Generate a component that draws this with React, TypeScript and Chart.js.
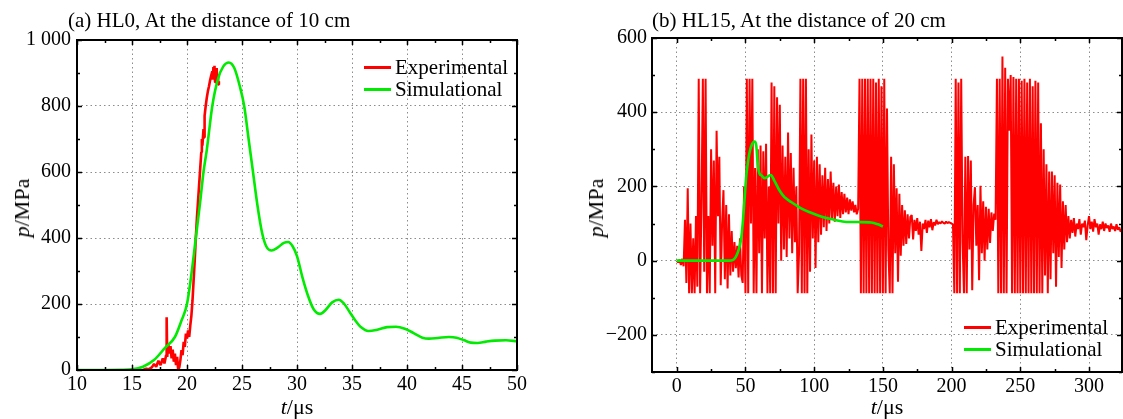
import React, { useEffect, useRef } from 'react';
import { Chart, registerables } from 'chart.js';

Chart.register(...registerables);

const FONT = '"Liberation Serif", "Times New Roman", Times, serif';
const RED = 'rgb(255,0,0)';
const GREEN = 'rgb(0,235,0)';

// ---------- Panel (a): HL0, 10 cm ----------
const aTitle = '(a) HL0, At the distance of 10 cm';
const aSimTime = [10, 12, 14, 15, 16, 17, 18, 18.9, 19.5, 20, 20.4, 20.8, 21.2, 21.5, 21.8, 22.3, 22.8, 23.3, 23.8, 24.3, 24.8, 25.2, 25.6, 26.0, 26.4, 26.8, 27.2, 27.7, 28.2, 28.8, 29.2, 29.6, 30.0, 30.5, 31.0, 31.5, 32.1, 32.6, 33.2, 33.8, 34.3, 34.8, 35.3, 35.8, 36.5, 37.3, 38.2, 39.0, 39.8, 40.6, 41.4, 42.0, 42.8, 43.8, 44.5, 45.2, 45.8, 46.4, 47.2, 48.0, 49.0, 50.0];
const aSimPressure = [0, 0, 0.5, 2, 10, 30, 67, 100, 150, 200, 290, 400, 510, 600, 667, 800, 880, 920, 932, 915, 860, 800, 700, 600, 500, 420, 375, 362, 370, 385, 388, 375, 345, 280, 225, 185, 170, 182, 205, 213, 200, 175, 150, 130, 118, 122, 130, 131, 125, 112, 98, 95, 97, 100, 98, 90, 83, 82, 86, 89, 90, 87];
const aExpTime = [16.0, 16.3, 16.5, 16.8, 17.0, 17.2, 17.4, 17.6, 17.8, 17.95, 18.1, 18.15, 18.2, 18.3, 18.4, 18.5, 18.6, 18.7, 18.8, 18.9, 19.0, 19.1, 19.2, 19.3, 19.4, 19.5, 19.6, 19.7, 19.8, 19.9, 20.0, 20.1, 20.2, 20.3, 20.4, 20.5, 20.6, 20.7, 20.8, 20.9, 21.0, 21.1, 21.2, 21.3, 21.35, 21.4, 21.5, 21.55, 21.6, 21.7, 21.8, 21.9, 22.0, 22.1, 22.2, 22.3, 22.35, 22.4, 22.45, 22.5, 22.55, 22.6, 22.65, 22.7, 22.75, 22.8, 22.85, 22.9];
const aExpPressure = [0, 4, 2, 8, 18, 10, 28, 15, 35, 20, 45, 160, 40, 80, 50, 72, 35, 62, 25, 50, 15, 40, 0, 8, 30, 60, 45, 85, 70, 110, 95, 120, 100, 135, 165, 210, 270, 330, 400, 460, 510, 560, 610, 660, 700, 680, 730, 705, 770, 800, 825, 845, 860, 878, 892, 905, 880, 918, 895, 922, 872, 912, 878, 915, 868, 895, 865, 875];
const aXTicks = [10, 15, 20, 25, 30, 35, 40, 45, 50];
const aYTicks = [0, 200, 400, 600, 800, 1000];
const aYTickLabels = ['0', '200', '400', '600', '800', '1 000'];

// ---------- Panel (b): HL15, 20 cm ----------
const bTitle = '(b) HL15, At the distance of 20 cm';
const bExpStep = 1; // µs between samples, starting at t = 0
const bExpPressure = [
  0, -5, 3, -12, 5, -15, 110, -60, 195, -88,
  100, -88, 60, -88, 120, -70, 490, -88, 150, 490,
  -30, 490, -88, 120, -88, 300, 40, 270, -88, 350,
  120, 280, -66, 100, 190, -50, 150, -75, 125, -40,
  80, -30, 50, -20, 40, -45, 60, -40, -60, 200,
  -88, 490, -88, 490, 100, 490, -88, 250, -88, 300,
  20, 310, -88, 295, 60, 315, -88, 200, -88, 480,
  -88, 470, -88, 440, 100, 420, 0, 310, 30, 280,
  10, 345, 60, 290, 20, 250, 50, 200, -88, 20,
  490, -88, 490, -88, 490, -88, 300, -30, 340, 60,
  270, -20, 280, 50, 260, 70, 230, 90, 250, 80,
  220, 100, 240, 110, 210, 105, 200, 120, 205, 115,
  185, 125, 180, 130, 170, 125, 165, 135, 160, 130,
  150, 125, 140, 490, -88, 490, -88, 490, -88, 490,
  -88, 490, -88, 490, -88, 480, -88, 490, -88, 470,
  -88, 490, -88, 410, 30, -88, 280, -88, 260, 20,
  195, -57, 180, 13, 150, 40, 136, 45, 125, 60,
  118, 123, 57, 110, 80, 115, 70, 105, 26, 100,
  85, 110, 75, 108, 90, 112, 82, 104, 95, 110,
  98, 104, 100, 106, 102, 100, 105, 101, 104, 102,
  100, 98, -88, 490, -88, 480, -88, 490, 50, -88,
  280, -88, 282, 30, 270, -80, 150, 198, 40, 150,
  -53, 202, 20, 160, 0, 145, 30, 140, 48, 130,
  80, 127, 110, 490, -88, 490, -88, 550, -88, 520,
  -88, 490, 350, 500, -88, 495, -88, 490, -88, 490,
  -88, 485, -88, 490, -88, 480, -88, 490, -88, 470,
  -88, 485, -88, 480, -88, 370, -88, 300, -40, 260,
  -88, 240, -50, 240, 20, 230, -70, 210, 10, 205,
  -20, 160, 30, 150, 50, 120, 60, 110, 75, 115,
  65, 100, 85, 112, 70, 100, 90, 108, 55, 95,
  120, 85, 105, 78, 112, 90, 100, 70, 98, 85,
  105, 80, 100, 88, 95, 78, 100, 85, 92, 80,
  98, 83, 90, 78, 85,
];
const bSimTime = [0, 10, 20, 30, 38, 41, 44.4, 46.8, 48, 49.3, 50.5, 51.7, 52.9, 54.6, 56.6, 57.8, 59, 60.2, 61.9, 64, 66.7, 68.5, 71.1, 74.8, 78.4, 83.3, 90.5, 97.8, 105, 112.4, 122, 131.8, 141.5, 146.4, 150];
const bSimPressure = [0, 0, 0, 0, 0, 2, 22, 57, 100, 163, 224, 262, 290, 312, 321, 312, 259, 235, 229, 222, 228, 231, 215, 189, 171, 158, 141, 129, 119, 112, 105, 104, 103, 98, 92];
const bXTicks = [0, 50, 100, 150, 200, 250, 300];
const bYTicks = [-200, 0, 200, 400, 600];
const bYTickLabels = ['\u2212200', '0', '200', '400', '600'];

const legendNames = ['Experimental', 'Simulational'];

const pts = (xs: number[], ys: number[]) => xs.map((x, i) => ({ x, y: ys[i] }));

const frameTicks = {
  id: 'frameTicks',
  afterDraw(chart: any, _args: any, opts: any) {
    const { ctx, chartArea: a } = chart;
    const xs = chart.scales.x;
    const ys = chart.scales.y;
    ctx.save();
    ctx.strokeStyle = '#000';
    ctx.lineWidth = 1.5;
    ctx.beginPath();
    const isMajor = (v: number, m: number) => Math.abs(v / m - Math.round(v / m)) < 1e-6;
    for (let v = Math.ceil(xs.min / opts.xMinor) * opts.xMinor; v <= xs.max + 1e-9; v += opts.xMinor) {
      const px = Math.round(xs.getPixelForValue(v)) + 0.5;
      const len = isMajor(v, opts.xMajor) ? 5 : 3;
      ctx.moveTo(px, a.bottom); ctx.lineTo(px, a.bottom - len);
      ctx.moveTo(px, a.top); ctx.lineTo(px, a.top + len);
    }
    for (let v = Math.ceil(ys.min / opts.yMinor) * opts.yMinor; v <= ys.max + 1e-9; v += opts.yMinor) {
      const py = Math.round(ys.getPixelForValue(v)) + 0.5;
      const len = isMajor(v, opts.yMajor) ? 5 : 3;
      ctx.moveTo(a.left, py); ctx.lineTo(a.left + len, py);
      ctx.moveTo(a.right, py); ctx.lineTo(a.right - len, py);
    }
    ctx.stroke();
    ctx.lineWidth = 2;
    ctx.strokeRect(a.left, a.top, a.right - a.left, a.bottom - a.top);
    ctx.restore();
  },
};

type PanelCfg = {
  width: number;
  pad: { top: number; right: number };
  yWidth: number;
  xHeight: number;
  xMin: number; xMax: number; xStep: number; xMinor: number;
  yMin: number; yMax: number; yStep: number; yMinor: number;
  xTicks: number[]; yTicks: number[]; yLabels: string[];
  exp: { x: number; y: number }[]; sim: { x: number; y: number }[];
  expWidth: number;
  yPad: number;
};

function makeChart(canvas: HTMLCanvasElement, c: PanelCfg) {
  const tickFont = { family: FONT, size: 20 };
  return new Chart(canvas, {
    type: 'line',
    data: {
      datasets: [
        { label: legendNames[1], data: c.sim, borderColor: GREEN, borderWidth: 2.6, pointRadius: 0, cubicInterpolationMode: 'monotone', order: 0, borderJoinStyle: 'round' },
        { label: legendNames[0], data: c.exp, borderColor: RED, borderWidth: c.expWidth, pointRadius: 0, tension: 0, order: 1, borderJoinStyle: 'bevel' },
      ],
    },
    options: {
      responsive: false,
      animation: false,
      events: [],
      layout: { padding: { top: c.pad.top, right: c.pad.right, left: 0, bottom: 0 } },
      plugins: {
        legend: { display: false },
        tooltip: { enabled: false },
        frameTicks: { xMajor: c.xStep, xMinor: c.xMinor, yMajor: c.yStep, yMinor: c.yMinor },
      } as any,
      scales: {
        x: {
          type: 'linear', min: c.xMin, max: c.xMax,
          afterFit: (s: any) => { s.height = c.xHeight; },
          ticks: {
            stepSize: c.xStep, includeBounds: false, autoSkip: false, maxRotation: 0, padding: 3, color: '#000', font: tickFont,
            callback: (v: any) => (c.xTicks.includes(Number(v)) ? String(v) : ''),
          },
          grid: { color: '#8c8c8c', lineWidth: 1, drawTicks: false },
          border: { display: false, dash: [1.5, 3] },
        },
        y: {
          type: 'linear', min: c.yMin, max: c.yMax,
          afterFit: (s: any) => { s.width = c.yWidth; },
          ticks: {
            stepSize: c.yStep, includeBounds: false, autoSkip: false, padding: c.yPad, color: '#000', font: tickFont,
            callback: (v: any) => { const i = c.yTicks.indexOf(Number(v)); return i >= 0 ? c.yLabels[i] : ''; },
          },
          grid: { color: '#8c8c8c', lineWidth: 1, drawTicks: false },
          border: { display: false, dash: [1.5, 3] },
        },
      },
    } as any,
    plugins: [frameTicks],
  });
}

const Legend = ({ left, top }: { left: number; top: number }) => (
  <div style={{ position: 'absolute', left, top, fontSize: 21, lineHeight: '22px', whiteSpace: 'nowrap' }}>
    {legendNames.map((n, i) => (
      <div key={n} style={{ display: 'flex', alignItems: 'center', height: 22 }}>
        <div style={{ width: 27, height: 3, background: i === 0 ? RED : GREEN, marginRight: 4 }} />
        <span>{n}</span>
      </div>
    ))}
  </div>
);

const YLabel = ({ x, y }: { x: number; y: number }) => (
  <div style={{ position: 'absolute', left: x, top: y, transform: 'translate(-50%,-50%) rotate(-90deg)', fontSize: 22, lineHeight: '24px', whiteSpace: 'nowrap' }}>
    <i>p</i>/MPa
  </div>
);

const XLabel = ({ x, y }: { x: number; y: number }) => (
  <div style={{ position: 'absolute', left: x, top: y, transform: 'translate(-50%,-50%)', fontSize: 22, lineHeight: '24px', whiteSpace: 'nowrap' }}>
    <i>t</i>/μs
  </div>
);

export default function App() {
  const refA = useRef<HTMLCanvasElement>(null);
  const refB = useRef<HTMLCanvasElement>(null);

  useEffect(() => {
    const bExpTime = bExpPressure.map((_, i) => i * bExpStep);
    const ca = makeChart(refA.current!, {
      width: 560, pad: { top: 40, right: 43 }, yWidth: 77, xHeight: 49,
      xMin: 10, xMax: 50, xStep: 5, xMinor: 2.5,
      yMin: 0, yMax: 1000, yStep: 200, yMinor: 100,
      xTicks: aXTicks, yTicks: aYTicks, yLabels: aYTickLabels,
      exp: pts(aExpTime, aExpPressure), sim: pts(aSimTime, aSimPressure), expWidth: 2.6, yPad: 6,
    });
    const cb = makeChart(refB.current!, {
      width: 563, pad: { top: 38, right: 1 }, yWidth: 92, xHeight: 47,
      xMin: -18, xMax: 324, xStep: 50, xMinor: 25,
      yMin: -300, yMax: 600, yStep: 200, yMinor: 100,
      xTicks: bXTicks, yTicks: bYTicks, yLabels: bYTickLabels,
      exp: pts(bExpTime, bExpPressure), sim: pts(bSimTime, bSimPressure), expWidth: 2, yPad: 5,
    });
    return () => { ca.destroy(); cb.destroy(); };
  }, []);

  return (
    <div style={{ position: 'fixed', left: 0, top: 0, width: 1123, height: 419, background: '#fff', fontFamily: FONT, color: '#000', overflow: 'hidden' }}>
      <canvas ref={refA} width={560} height={419} style={{ position: 'absolute', left: 0, top: 0, width: 560, height: 419 }} />
      <canvas ref={refB} width={563} height={419} style={{ position: 'absolute', left: 560, top: 0, width: 563, height: 419 }} />
      <div style={{ position: 'absolute', left: 68, top: 7, fontSize: 21, lineHeight: '26px', whiteSpace: 'nowrap' }}>{aTitle}</div>
      <div style={{ position: 'absolute', left: 652, top: 7, fontSize: 21, lineHeight: '26px', whiteSpace: 'nowrap' }}>{bTitle}</div>
      <Legend left={364} top={56} />
      <Legend left={964} top={316} />
      <YLabel x={22} y={208} />
      <YLabel x={596} y={208} />
      <XLabel x={297} y={407} />
      <XLabel x={887} y={407} />
    </div>
  );
}
